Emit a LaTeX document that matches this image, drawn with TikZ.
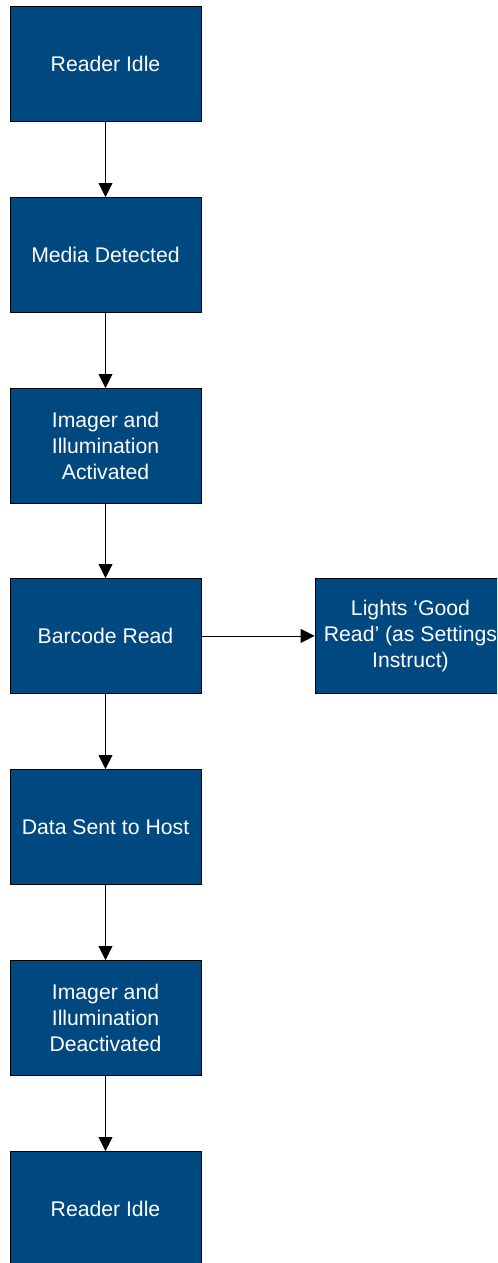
\documentclass[tikz,border=0pt]{standalone}
\usepackage{fontspec}
\setmainfont{Liberation Sans}
\usetikzlibrary{arrows.meta}
\definecolor{boxblue}{RGB}{0,72,128}
\tikzset{
  stepbox/.style={draw=black, line width=0.6pt, fill=boxblue, text=white,
    minimum width=143.25pt, minimum height=86.25pt, inner sep=0pt,
    align=center, font=\fontsize{15.9pt}{19.5pt}\selectfont, anchor=north},
  flow/.style={draw=black, line width=0.6pt, -{Triangle[length=10.5pt,width=10.5pt]}}
}
\begin{document}
\begin{tikzpicture}[x=0.75pt,y=-0.75pt]
\useasboundingbox (0,0) rectangle (497,1263);
\clip (0,0) rectangle (497,1263);
\node[stepbox] (a) at (105.5,6) {Reader Idle};
\node[stepbox] (b) at (105.5,197) {Media Detected};
\node[stepbox] (c) at (105.5,388) {Imager and\\Illumination\\Activated};
\node[stepbox] (d) at (105.5,578) {Barcode Read};
\node[stepbox] (e) at (105.5,769) {Data Sent to Host};
\node[stepbox] (f) at (105.5,960) {Imager and\\Illumination\\Deactivated};
\node[stepbox] (g) at (105.5,1151) {Reader Idle};
\node[stepbox] (h) at (410.5,578) {Lights ‘Good\\Read’ (as Settings\\Instruct)};
\draw[flow] (a) -- (b);
\draw[flow] (b) -- (c);
\draw[flow] (c) -- (d);
\draw[flow] (d) -- (e);
\draw[flow] (e) -- (f);
\draw[flow] (f) -- (g);
\draw[flow] (d) -- (h);
\end{tikzpicture}
\end{document}
